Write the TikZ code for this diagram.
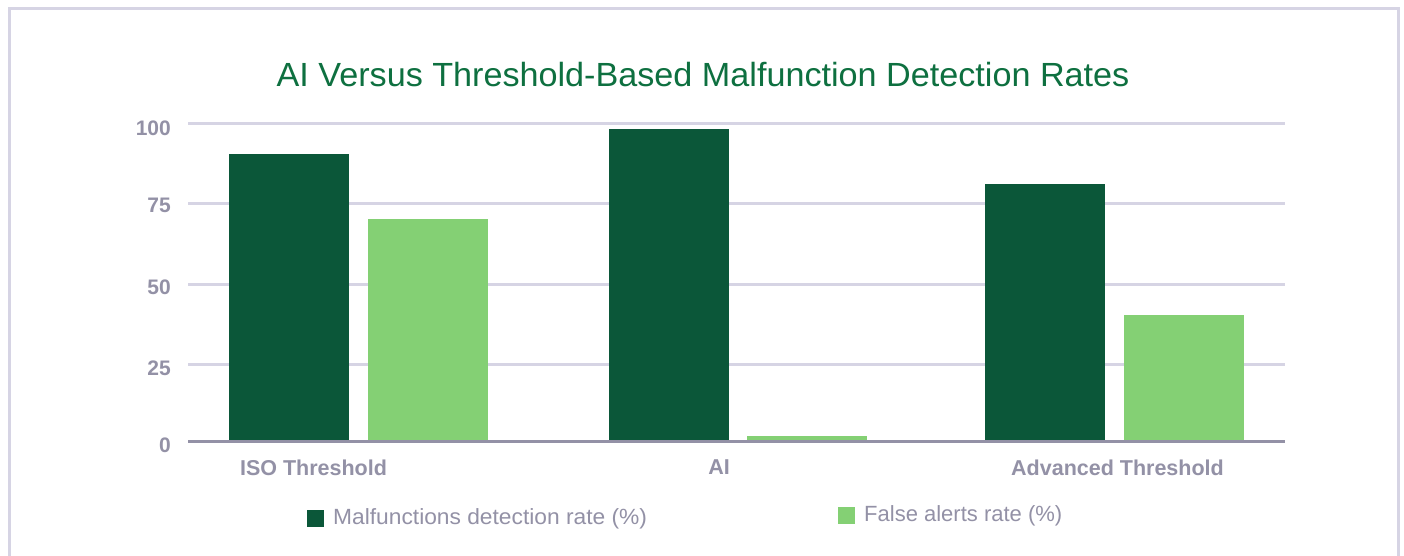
\documentclass[tikz,border=0pt]{standalone}
\usepackage{fontspec}
\setmainfont{Liberation Sans}
\definecolor{frame}{HTML}{D6D4E4}
\definecolor{grid}{HTML}{D6D4E4}
\definecolor{axis}{HTML}{9391A6}
\definecolor{label}{HTML}{9391A6}
\definecolor{darkbar}{HTML}{0B5739}
\definecolor{lightbar}{HTML}{84D074}
\definecolor{titlegreen}{HTML}{0E7040}
\begin{document}
\begin{tikzpicture}[x=1pt,y=-1pt,
  gridline/.style={draw=grid,line width=3pt},
  baseline/.style={draw=axis,line width=3pt},
  darkfill/.style={fill=darkbar},
  lightfill/.style={fill=lightbar},
  ticklabel/.style={text=label,font=\fontsize{21}{24}\selectfont\bfseries,anchor=east,inner sep=0pt},
  catlabel/.style={text=label,font=\fontsize{21.5}{24}\selectfont\bfseries,inner sep=0pt},
  legendtext/.style={text=label,font=\fontsize{22}{26}\selectfont,anchor=west,inner sep=0pt},
  swatch/.style={minimum size=17pt,inner sep=0pt,anchor=north west}]
\useasboundingbox[fill=white] (0,0) rectangle (1404,556);
% card outline, open at the bottom
\draw[draw=frame,line width=3pt] (9.5,556) -- (9.5,9) -- (1398.5,9) -- (1398.5,556);
% title
\node[text=titlegreen,font=\fontsize{33.5}{40}\selectfont,inner sep=0pt,xscale=1.02] (title) at (703,75) {AI Versus Threshold-Based Malfunction Detection Rates};
% horizontal grid
\foreach \yy/\nm in {123.5/g100,203.5/g75,284.5/g50,364.5/g25}{
  \coordinate (\nm a) at (188,\yy);
  \coordinate (\nm b) at (1285,\yy);
  \draw[gridline] (\nm a) -- (\nm b);
}
% tick labels
\node[ticklabel] (t100) at (171,128) {100};
\node[ticklabel] (t75) at (171,205) {75};
\node[ticklabel] (t50) at (171,287) {50};
\node[ticklabel] (t25) at (171,368) {25};
\node[ticklabel] (t0) at (171,445) {0};
% bars
\fill[darkfill] (229,442) rectangle (349,154);
\fill[lightfill] (368,442) rectangle (488,219);
\fill[darkfill] (609,442) rectangle (729,129);
\fill[lightfill] (747,442) rectangle (867,436);
\fill[darkfill] (985,442) rectangle (1105,184);
\fill[lightfill] (1124,442) rectangle (1244,315);
% zero line
\coordinate (za) at (188,441.5);
\coordinate (zb) at (1285,441.5);
\draw[baseline] (za) -- (zb);
% category labels
\node[catlabel] (c1) at (313.5,467.5) {ISO Threshold};
\node[catlabel] (c2) at (719,467.5) {AI};
\node[catlabel] (c3) at (1117.5,467.5) {Advanced Threshold};
% legend
\node[swatch,fill=darkbar] (s1) at (307,510) {};
\node[legendtext,xscale=1.035] (l1) at (333,518.5) {Malfunctions detection rate (\%)};
\node[swatch,fill=lightbar] (s2) at (838,507) {};
\node[legendtext] (l2) at (864,515.5) {False alerts rate (\%)};
\end{tikzpicture}
\end{document}
